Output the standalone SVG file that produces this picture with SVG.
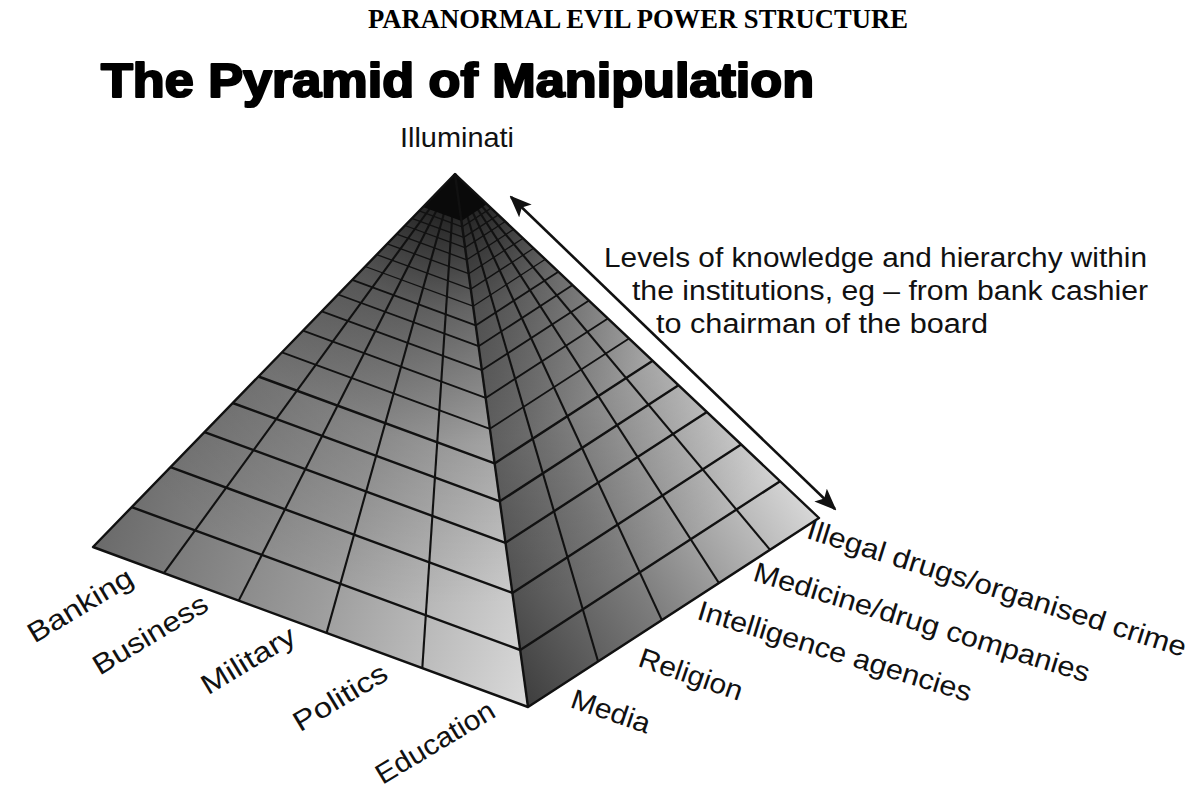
<svg xmlns="http://www.w3.org/2000/svg" width="1195" height="790" viewBox="0 0 1195 790">
  <style>
    .hdr { font-family: "Liberation Serif", "Times New Roman", serif; font-weight: bold; font-size: 27px; fill: #000; }
    .ttl { font-family: "Liberation Sans", Arial, sans-serif; font-weight: bold; font-size: 48px; fill: #000; stroke: #000; stroke-width: 2.2px; stroke-linejoin: round; }
    .lbl { font-family: "Liberation Sans", Arial, sans-serif; font-size: 28px; fill: #111; }
    .desc { font-family: "Liberation Sans", Arial, sans-serif; font-size: 27px; fill: #111; }
    .rowA { fill: none; stroke: #111; stroke-width: 2.4; stroke-linejoin: round; }
    .rowB { fill: none; stroke: #111; stroke-width: 1.8; stroke-linejoin: round; }
    .rowC { fill: none; stroke: #111; stroke-width: 1.3; stroke-linejoin: round; }
    .col { stroke: #111; stroke-width: 2.1; fill: none; }
    .edge { fill: none; stroke: #111; stroke-width: 2.4; stroke-linejoin: round; }
    .arrow { stroke: #111; stroke-width: 2.6; fill: none; }
  </style>
  <defs>
    <linearGradient id="gLeft" gradientUnits="userSpaceOnUse" x1="93" y1="547" x2="528" y2="707">
      <stop offset="0" stop-color="#6a6a6a"/>
      <stop offset="0.5" stop-color="#9c9c9c"/>
      <stop offset="1" stop-color="#dadada"/>
    </linearGradient>
    <linearGradient id="gRight" gradientUnits="userSpaceOnUse" x1="528" y1="707" x2="819" y2="518">
      <stop offset="0" stop-color="#3e3e3e"/>
      <stop offset="0.45" stop-color="#7c7c7c"/>
      <stop offset="1" stop-color="#d8d8d8"/>
    </linearGradient>
    <radialGradient id="gDark" gradientUnits="userSpaceOnUse" cx="455" cy="174" r="540">
      <stop offset="0" stop-color="#000" stop-opacity="0.95"/>
      <stop offset="0.08" stop-color="#000" stop-opacity="0.75"/>
      <stop offset="0.25" stop-color="#000" stop-opacity="0.4"/>
      <stop offset="0.5" stop-color="#000" stop-opacity="0.12"/>
      <stop offset="0.8" stop-color="#000" stop-opacity="0"/>
    </radialGradient>
    <marker id="ah" viewBox="0 0 22 18" refX="20" refY="9" markerWidth="22" markerHeight="18" markerUnits="userSpaceOnUse" orient="auto-start-reverse">
      <path d="M0,0 L22,9 L0,18 L5,9 Z" fill="#111"/>
    </marker>
  </defs>

  <rect x="0" y="0" width="1195" height="790" fill="#ffffff"/>

  <g id="header">
    <text class="hdr" x="368" y="28" textLength="540" lengthAdjust="spacingAndGlyphs">PARANORMAL EVIL POWER STRUCTURE</text>
  </g>
  <g id="title">
    <text class="ttl" x="101" y="97" textLength="713" lengthAdjust="spacingAndGlyphs">The Pyramid of Manipulation</text>
  </g>

  <g id="pyramid">
    <polygon id="face-left" points="455,174 93,547 528,707" fill="url(#gLeft)"/>
    <polygon id="face-right" points="455,174 528,707 819,518" fill="url(#gRight)"/>
    <polygon points="455,174 93,547 528,707 819,518" fill="url(#gDark)"/>
    <g id="grid-rows">
      <polyline class="rowA" points="131.7,507.1 520.2,650.0 780.1,481.2"/>
      <polyline class="rowA" points="170.5,467.2 512.4,592.9 741.1,444.4"/>
      <polyline class="rowA" points="204.5,432.1 505.5,542.8 706.9,412.0"/>
      <polyline class="rowA" points="232.7,403.0 499.8,501.3 678.5,385.2"/>
      <polyline class="rowA" points="258.4,376.5 494.6,463.4 652.7,360.8"/>
      <polyline class="rowB" points="282.0,352.3 489.9,428.8 629.0,338.4"/>
      <polyline class="rowB" points="303.0,330.7 485.7,397.9 607.9,318.5"/>
      <polyline class="rowB" points="321.8,311.3 481.9,370.1 589.0,300.6"/>
      <polyline class="rowB" points="338.1,294.5 478.6,346.2 572.6,285.1"/>
      <polyline class="rowB" points="352.2,279.9 475.7,325.4 558.4,271.7"/>
      <polyline class="rowC" points="365.2,266.5 473.1,306.2 545.3,259.3"/>
      <polyline class="rowC" points="376.8,254.6 470.8,289.1 533.6,248.3"/>
      <polyline class="rowC" points="387.3,243.8 468.7,273.7 523.1,238.3"/>
      <polyline class="rowC" points="396.7,234.1 466.8,259.8 513.6,229.4"/>
      <polyline class="rowC" points="405.0,225.5 465.1,247.6 505.2,221.5"/>
      <polyline class="rowC" points="411.9,218.4 463.7,237.4 498.3,214.9"/>
      <polyline class="rowC" points="419.2,210.9 462.2,226.8 491.0,208.1"/>
    </g>
    <g id="grid-columns">
      <line class="col" x1="455" y1="174" x2="163.9" y2="573.1"/>
      <line class="col" x1="455" y1="174" x2="238.7" y2="600.6"/>
      <line class="col" x1="455" y1="174" x2="326.6" y2="632.9"/>
      <line class="col" x1="455" y1="174" x2="422.3" y2="668.1"/>
      <line class="col" x1="455" y1="174" x2="598.1" y2="661.5"/>
      <line class="col" x1="455" y1="174" x2="661.9" y2="620.1"/>
      <line class="col" x1="455" y1="174" x2="718.9" y2="583.0"/>
      <line class="col" x1="455" y1="174" x2="770.1" y2="549.8"/>
    </g>
    <polygon id="cap" points="455,174 423.0,207.0 461.6,221.0 487.0,204.0" fill="#0a0a0a"/>
    <g id="edges">
      <polygon class="edge" points="455,174 93,547 528,707 819,518"/>
      <line class="edge" x1="455" y1="174" x2="528" y2="707"/>
    </g>
  </g>

  <g id="connectors">
    <line class="arrow" x1="511" y1="197" x2="835" y2="509" marker-start="url(#ah)" marker-end="url(#ah)"/>
  </g>

  <g id="node-illuminati">
    <text class="lbl" x="457" y="147" text-anchor="middle" textLength="114" lengthAdjust="spacingAndGlyphs">Illuminati</text>
  </g>
  <g id="node-levels">
    <text class="desc" x="604" y="267" textLength="543" lengthAdjust="spacingAndGlyphs">Levels of knowledge and hierarchy within</text>
    <text class="desc" x="632" y="300" textLength="516" lengthAdjust="spacingAndGlyphs">the institutions, eg – from bank cashier</text>
    <text class="desc" x="656" y="333" textLength="332" lengthAdjust="spacingAndGlyphs">to chairman of the board</text>
  </g>

  <g id="node-banking"><text class="lbl" text-anchor="middle" dy="0.35em" transform="translate(80,605) rotate(-31)" textLength="118" lengthAdjust="spacingAndGlyphs">Banking</text></g>
  <g id="node-business"><text class="lbl" text-anchor="middle" dy="0.35em" transform="translate(150,634) rotate(-31)" textLength="129" lengthAdjust="spacingAndGlyphs">Business</text></g>
  <g id="node-military"><text class="lbl" text-anchor="middle" dy="0.35em" transform="translate(248,660) rotate(-31)" textLength="105" lengthAdjust="spacingAndGlyphs">Military</text></g>
  <g id="node-politics"><text class="lbl" text-anchor="middle" dy="0.35em" transform="translate(340,697) rotate(-31)" textLength="105" lengthAdjust="spacingAndGlyphs">Politics</text></g>
  <g id="node-education"><text class="lbl" text-anchor="middle" dy="0.35em" transform="translate(435,742) rotate(-31)" textLength="134" lengthAdjust="spacingAndGlyphs">Education</text></g>

  <g id="node-illegal"><text class="lbl" text-anchor="middle" dy="0.35em" transform="translate(997,588) rotate(17.5)" textLength="396" lengthAdjust="spacingAndGlyphs">Illegal drugs/organised crime</text></g>
  <g id="node-medicine"><text class="lbl" text-anchor="middle" dy="0.35em" transform="translate(922,622) rotate(17)" textLength="350" lengthAdjust="spacingAndGlyphs">Medicine/drug companies</text></g>
  <g id="node-intelligence"><text class="lbl" text-anchor="middle" dy="0.35em" transform="translate(835,651) rotate(17)" textLength="285" lengthAdjust="spacingAndGlyphs">Intelligence agencies</text></g>
  <g id="node-religion"><text class="lbl" text-anchor="middle" dy="0.35em" transform="translate(691,674) rotate(19)" textLength="108" lengthAdjust="spacingAndGlyphs">Religion</text></g>
  <g id="node-media"><text class="lbl" text-anchor="middle" dy="0.35em" transform="translate(611,711) rotate(19)" textLength="82" lengthAdjust="spacingAndGlyphs">Media</text></g>
</svg>
